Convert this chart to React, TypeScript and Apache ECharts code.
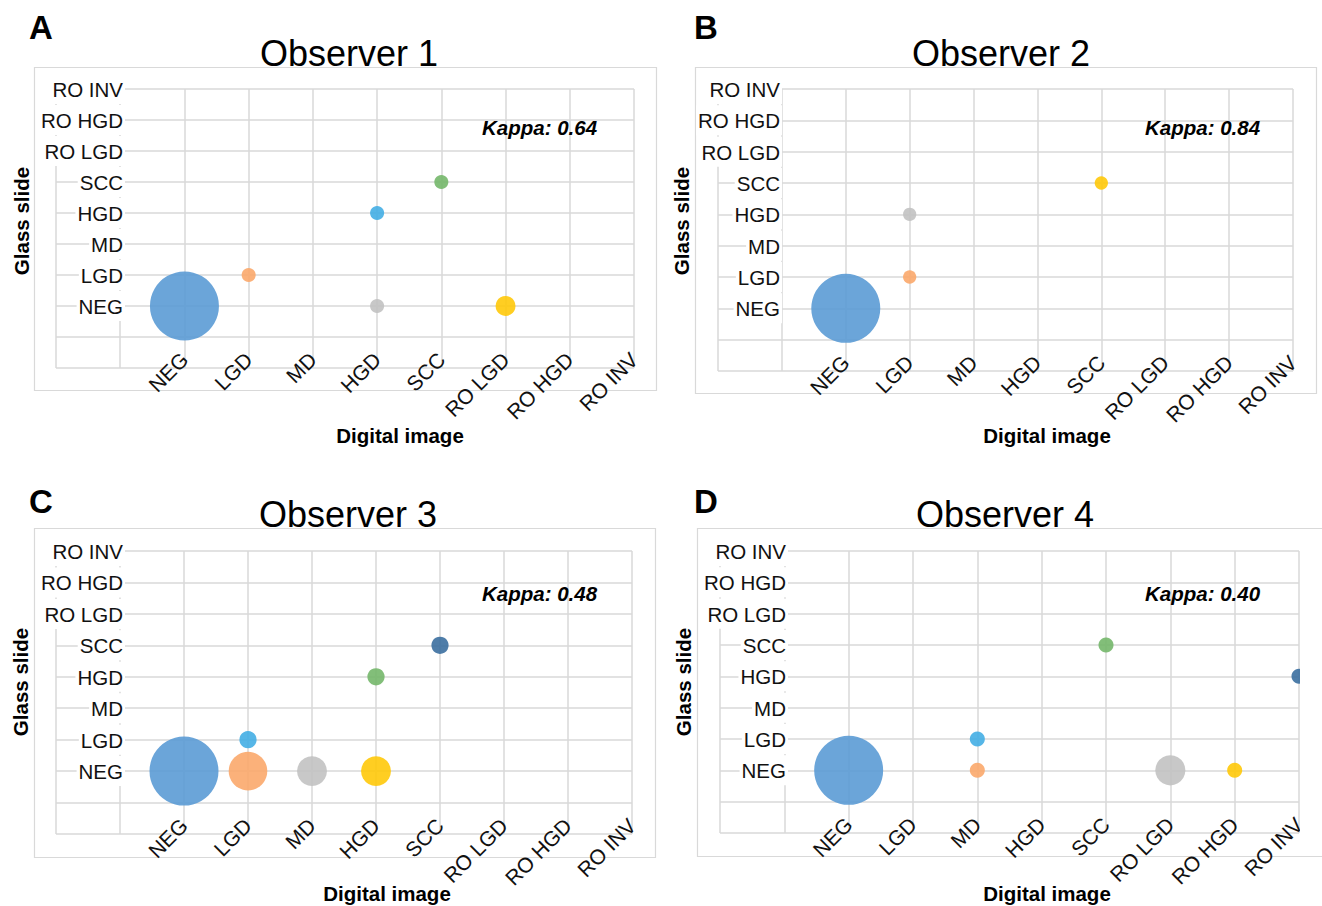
import React, { useEffect, useRef } from "react";
import * as echarts from "echarts";

// ---------- data ----------
const CATEGORIES = ["NEG", "LGD", "MD", "HGD", "SCC", "RO LGD", "RO HGD", "RO INV"];
// two unlabeled leading slots, as in the original axes (0 and 1 carry no label)
const AXIS_CATEGORIES = ["", " ", ...CATEGORIES];

const OBSERVER_TITLES = ["Observer 1", "Observer 2", "Observer 3", "Observer 4"];
const PANEL_LETTERS = ["A", "B", "C", "D"];
const KAPPAS = [0.64, 0.84, 0.48, 0.4];

// [digital image, glass slide, number of cases]
const OBS1: [string, string, number][] = [
  ["NEG", "NEG", 24],
  ["LGD", "LGD", 1],
  ["HGD", "NEG", 1],
  ["RO LGD", "NEG", 2],
  ["HGD", "HGD", 1],
  ["SCC", "SCC", 1],
];
const OBS2: [string, string, number][] = [
  ["NEG", "NEG", 27],
  ["LGD", "LGD", 1],
  ["LGD", "HGD", 1],
  ["SCC", "SCC", 1],
];
const OBS3: [string, string, number][] = [
  ["NEG", "NEG", 16],
  ["LGD", "NEG", 5],
  ["MD", "NEG", 3],
  ["HGD", "NEG", 3],
  ["LGD", "LGD", 1],
  ["HGD", "HGD", 1],
  ["SCC", "SCC", 1],
];
const OBS4: [string, string, number][] = [
  ["NEG", "NEG", 21],
  ["MD", "NEG", 1],
  ["RO LGD", "NEG", 4],
  ["RO HGD", "NEG", 1],
  ["MD", "LGD", 1],
  ["SCC", "SCC", 1],
  ["RO INV", "HGD", 1],
];
const OBSERVATIONS = [OBS1, OBS2, OBS3, OBS4];

// ---------- style ----------
const PALETTE = ["#5B9BD5", "#FBA96B", "#C2C2C2", "#FFC90A", "#44AEE4", "#74B76A", "#3B6FA0"];
const FONT = '"Liberation Sans", Arial, Helvetica, sans-serif';
const GRID_COLOR = "#D9D9D9";
const MAX_BUBBLE = 69;

const LAYOUT = [
  {
    grid: { left: 56, top: 89, width: 578, height: 279 },
    box: [34, 67, 622, 323],
    letter: [41, 27],
    title: [349, 53],
    kappa: [482, 127],
    xName: [400, 435],
    yName: [21, 221],
    yMargin: -69,
  },
  {
    grid: { left: 718, top: 89, width: 575, height: 282 },
    box: [695, 67, 621, 326],
    letter: [706, 27],
    title: [1001, 53],
    kappa: [1145, 127],
    xName: [1047, 435],
    yName: [681, 221],
    yMargin: -64,
  },
  {
    grid: { left: 56, top: 551, width: 576, height: 283 },
    box: [34, 528, 621, 329],
    letter: [41, 501],
    title: [348, 514],
    kappa: [482, 593],
    xName: [387, 893],
    yName: [20, 682],
    yMargin: -69,
  },
  {
    grid: { left: 720, top: 551, width: 579, height: 282 },
    box: [697, 528, 640, 328],
    letter: [706, 501],
    title: [1005, 514],
    kappa: [1145, 593],
    xName: [1047, 893],
    yName: [683, 682],
    yMargin: -68,
  },
];

function buildOption() {
  const graphic: any[] = [];
  LAYOUT.forEach((L, i) => {
    graphic.push({
      type: "rect",
      z: 0,
      silent: true,
      shape: { x: L.box[0] + 0.5, y: L.box[1] + 0.5, width: L.box[2], height: L.box[3] },
      style: { fill: "none", stroke: GRID_COLOR, lineWidth: 1.2 },
    });
    graphic.push({
      type: "text",
      x: L.letter[0],
      y: L.letter[1],
      z: 10,
      style: {
        text: PANEL_LETTERS[i],
        fontSize: 33,
        fontWeight: "bold",
        fontFamily: FONT,
        fill: "#000",
        align: "center",
        verticalAlign: "middle",
      },
    });
    graphic.push({
      type: "text",
      x: L.title[0],
      y: L.title[1],
      z: 10,
      style: {
        text: OBSERVER_TITLES[i],
        fontSize: 36,
        fontFamily: FONT,
        fill: "#000",
        align: "center",
        verticalAlign: "middle",
      },
    });
    graphic.push({
      type: "text",
      x: L.kappa[0],
      y: L.kappa[1],
      z: 10,
      style: {
        text: "Kappa: " + KAPPAS[i].toFixed(2),
        fontSize: 20.5,
        fontWeight: "bold",
        fontStyle: "italic",
        fontFamily: FONT,
        fill: "#000",
        align: "left",
        verticalAlign: "middle",
      },
    });
    graphic.push({
      type: "text",
      x: L.xName[0],
      y: L.xName[1],
      z: 10,
      style: {
        text: "Digital image",
        fontSize: 20.5,
        fontWeight: "bold",
        fontFamily: FONT,
        fill: "#000",
        align: "center",
        verticalAlign: "middle",
      },
    });
    graphic.push({
      type: "text",
      x: L.yName[0],
      y: L.yName[1],
      rotation: Math.PI / 2,
      z: 10,
      style: {
        text: "Glass slide",
        fontSize: 20.5,
        fontWeight: "bold",
        fontFamily: FONT,
        fill: "#000",
        align: "center",
        verticalAlign: "middle",
      },
    });
  });
  // plot area of panel D is cut at its right edge
  const g4 = LAYOUT[3].grid;
  graphic.push({
    type: "rect",
    z: 20,
    silent: true,
    shape: { x: g4.left + g4.width + 1, y: g4.top + 2, width: 30, height: g4.height - 4 },
    style: { fill: "#fff" },
  });

  const splitLine = { show: true, interval: 0, lineStyle: { color: GRID_COLOR, width: 1.5 } };

  // grid-line axes (labels hidden) for each panel
  const gridXAxes = LAYOUT.map((L, i) => ({
    type: "category",
    gridIndex: i,
    data: AXIS_CATEGORIES,
    boundaryGap: false,
    z: 1,
    axisLine: { show: false },
    axisTick: { show: false },
    splitLine,
    axisLabel: { show: false },
  }));
  // label-only axes drawn on top of the grid lines
  const labelXAxes = LAYOUT.map((L, i) => ({
    type: "category",
    gridIndex: i,
    position: "bottom",
    data: AXIS_CATEGORIES,
    boundaryGap: false,
    z: 4,
    axisLine: { show: false },
    axisTick: { show: false },
    splitLine: { show: false },
    axisLabel: {
      interval: 0,
      rotate: 45,
      margin: -12,
      padding: [8, 0, 0, 0],
      fontSize: 21,
      color: "#111",
      fontFamily: FONT,
    },
  }));

  return {
    animation: false,
    backgroundColor: "#fff",
    textStyle: { fontFamily: FONT },
    grid: LAYOUT.map((L) => ({ ...L.grid, containLabel: false })),
    xAxis: [...gridXAxes, ...labelXAxes],
    yAxis: LAYOUT.map((L, i) => ({
      type: "category",
      gridIndex: i,
      data: AXIS_CATEGORIES,
      boundaryGap: false,
      z: 2,
      axisLine: { show: false },
      axisTick: { show: false },
      splitLine,
      axisLabel: {
        interval: 0,
        margin: L.yMargin,
        fontSize: 20,
        color: "#111",
        fontFamily: FONT,
        formatter: (v: string) => (v.trim() ? "{b|" + v + "}" : ""),
        rich: {
          b: {
            fontSize: 20.5,
            fontFamily: FONT,
            color: "#111",
            backgroundColor: "#fff",
            padding: [5, 2, 4, 2],
          },
        },
      },
    })),
    series: OBSERVATIONS.map((obs, i) => {
      const maxN = Math.max(...obs.map((d) => d[2]));
      return {
        type: "scatter",
        xAxisIndex: i,
        yAxisIndex: i,
        z: 3,
        clip: false,
        symbolSize: (v: any) => MAX_BUBBLE * Math.sqrt(v[2] / maxN),
        itemStyle: { opacity: 0.9 },
        data: obs.map((d, j) => ({ value: d, itemStyle: { color: PALETTE[j] } })),
      };
    }),
    graphic,
  };
}

export default function App() {
  const ref = useRef<HTMLDivElement>(null);
  useEffect(() => {
    if (!ref.current) return;
    const chart = echarts.init(ref.current, null, { renderer: "svg" });
    chart.setOption(buildOption() as any);
    return () => chart.dispose();
  }, []);
  return (
    <div
      ref={ref}
      style={{ position: "absolute", left: 0, top: 0, width: 1322, height: 906, background: "#fff" }}
    />
  );
}
